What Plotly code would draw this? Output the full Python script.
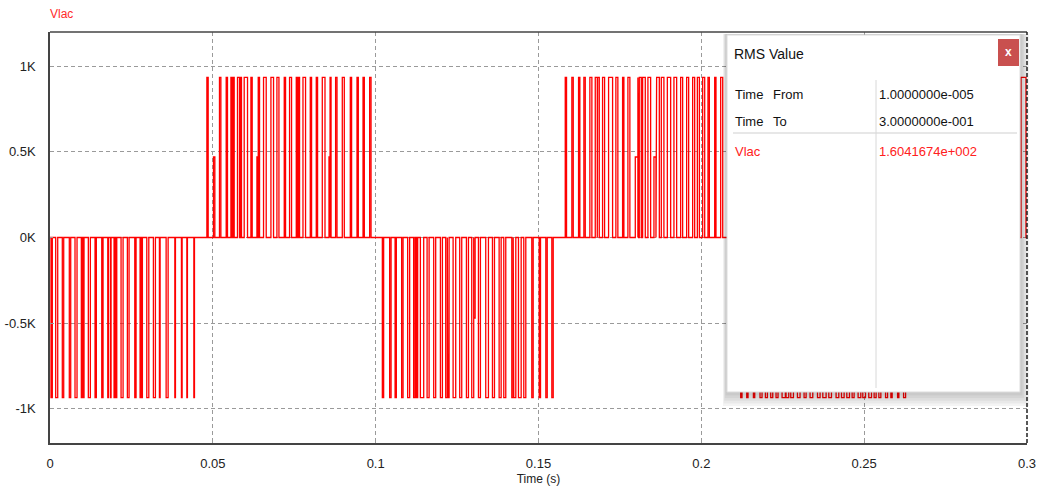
import plotly.graph_objects as go

# ---------------------------------------------------------------
# Vlac : inverter output voltage (PWM), pulse edges in milliseconds
# each entry is (switch-on time, switch-off time)
# ---------------------------------------------------------------
V_PEAK = 935.0          # pulse amplitude, volts
V_PART = 470.0          # amplitude of the truncated (partial) pulses

NEG_HALF_1 = [
    (0.31, 0.71), (1.75, 2.37), (3.78, 4.21), (5.93, 6.36), (7.68, 8.30),
    (9.62, 9.84), (10.05, 10.45), (11.77, 12.39), (13.83, 14.23), (15.89, 16.29),
    (17.74, 17.92), (18.54, 18.75), (19.67, 19.98), (20.29, 20.50), (21.82, 22.44),
    (23.76, 24.28), (26.03, 26.43), (27.66, 27.88), (28.19, 28.37), (29.72, 30.34),
    (31.75, 32.37), (33.60, 33.81), (35.66, 36.27), (38.33, 38.52), (40.36, 40.57),
    (42.02, 42.20), (44.17, 44.36),
]

POS_HALF_1 = [
    (48.17, 48.57), (52.04, 52.47), (54.10, 54.50), (55.55, 55.94), (56.16, 56.56),
    (57.57, 58.19), (58.40, 58.80), (59.63, 60.65), (61.69, 62.09), (63.94, 64.34),
    (65.57, 66.39), (67.84, 68.64), (69.68, 70.30), (71.93, 72.33), (73.56, 74.17),
    (75.62, 76.02), (76.23, 76.63), (77.68, 78.47), (79.92, 80.32), (81.76, 82.16),
    (83.61, 84.44), (86.00, 86.30), (87.70, 88.13), (89.75, 90.37), (92.21, 92.61),
    (94.27, 94.67), (96.12, 96.52), (98.15, 98.58),
]

NEG_HALF_2 = [
    (102.05, 102.45), (104.30, 104.73), (105.96, 106.35), (107.98, 108.41),
    (109.83, 110.44), (111.67, 112.10), (112.50, 112.90), (113.73, 114.75),
    (115.79, 116.41), (117.82, 118.43), (119.88, 120.49), (121.51, 122.00),
    (122.20, 122.55), (123.78, 124.58), (125.81, 126.43), (127.87, 128.49),
    (129.50, 130.11), (131.56, 132.17), (133.80, 134.63), (135.86, 136.48),
    (137.91, 138.53), (139.34, 139.95), (141.80, 142.23), (142.41, 143.03),
    (143.85, 144.68), (145.48, 146.10), (147.94, 148.37), (150.22, 150.62),
    (152.25, 152.68), (154.09, 154.52),
]

POS_HALF_2 = [
    (158.21, 158.61), (160.24, 160.67), (162.30, 162.70), (163.93, 164.36),
    (165.77, 166.39), (167.43, 168.05), (168.15, 168.66), (169.67, 170.29),
    (171.52, 172.75), (173.76, 174.37), (175.82, 176.22), (177.45, 178.06),
    (180.52, 180.75), (180.95, 181.56), (181.97, 182.79), (183.60, 184.43),
    (186.27, 187.10), (187.71, 188.51), (189.56, 190.58), (191.59, 192.42),
    (193.65, 194.26), (195.49, 196.11), (197.34, 197.95), (198.78, 199.39),
    (200.41, 201.03), (202.04, 202.46), (204.10, 204.50), (205.94, 206.56),
]

NEG_HALF_3 = [
    (212.09, 212.49), (213.94, 214.34), (215.99, 216.40), (218.02, 218.64),
    (219.68, 220.29), (221.31, 221.93), (222.94, 223.55), (224.79, 225.81),
    (226.02, 226.84), (227.46, 228.28), (229.51, 230.31), (231.55, 232.17),
    (233.39, 234.22), (235.67, 236.46), (237.30, 238.31), (239.14, 239.96),
    (241.38, 242.21), (243.04, 243.84), (244.67, 245.49), (246.30, 246.91),
    (248.14, 248.97), (249.58, 250.41), (251.42, 252.25), (253.06, 253.67),
    (254.51, 255.12), (256.57, 257.18), (258.20, 258.60), (260.26, 260.66),
    (262.10, 262.72),
]

POS_HALF_3 = [(298.16, 299.69)]

# truncated pulses (on, off, sign)
PARTIAL = [
    (50.20, 50.62, +1), (63.54, 63.85, +1), (85.67, 86.00, +1),
    (130.11, 130.54, -1), (179.72, 180.52, +1), (185.45, 186.07, +1),
]

T_END_MS = 300.0

# x / y axis ticks
X_TICKS = [0, 0.05, 0.1, 0.15, 0.2, 0.25, 0.3]
X_TICK_TEXT = ["0", "0.05", "0.1", "0.15", "0.2", "0.25", "0.3"]
Y_TICKS = [1000, 500, 0, -500, -1000]
Y_TICK_TEXT = ["1K", "0.5K", "0K", "-0.5K", "-1K"]

# RMS readout table
RMS_ROWS = [("Time", "From", "1.0000000e-005"), ("Time", "To", "3.0000000e-001")]
RMS_SIGNAL = ("Vlac", "1.6041674e+002")

# ---------------------------------------------------------------
# assemble the step waveform
# ---------------------------------------------------------------
pulses = []
for group, sign in ((NEG_HALF_1, -1), (POS_HALF_1, +1), (NEG_HALF_2, -1),
                    (POS_HALF_2, +1), (NEG_HALF_3, -1), (POS_HALF_3, +1)):
    pulses += [(a, b, sign * V_PEAK) for a, b in group]
pulses += [(a, b, s * V_PART) for a, b, s in PARTIAL]
pulses.sort()

xs, ys = [0.0], [0.0]
for a, b, v in pulses:
    xs += [a / 1000, a / 1000, b / 1000, b / 1000]
    ys += [0.0, v, v, 0.0]
xs.append(T_END_MS / 1000)
ys.append(0.0)

FONT = "Arial, Liberation Sans, sans-serif"

fig = go.Figure()
fig.add_trace(go.Scatter(x=xs, y=ys, mode="lines", name="Vlac",
                         line=dict(color="#ff0000", width=1.3),
                         hoverinfo="skip", showlegend=False))

# plot area in pixels: left 50, right 1027, top 32, bottom 443
W, H = 1042, 492
ML, MR, MT, MB = 50, 15, 32, 49
PW, PH = W - ML - MR, H - MT - MB


def px(x):
    return (x - ML) / PW


def py(y):
    return (H - MB - y) / PH


grid = dict(showgrid=True, gridcolor="#9a9a9a", gridwidth=1, griddash="4px,3px",
            zeroline=False, automargin=False)

fig.update_xaxes(range=[0, 0.3], tickvals=X_TICKS, ticktext=X_TICK_TEXT,
                 ticks="inside", ticklen=4, tickcolor="#9a9a9a",
                 showline=True, linecolor="#444", linewidth=1.5, mirror=False,
                 tickfont=dict(family=FONT, size=13, color="#222"),
                 ticklabelstandoff=8,
                 title=dict(text="Time (s)", font=dict(family=FONT, size=12, color="#222"),
                            standoff=4),
                 **grid)
fig.update_yaxes(range=[-1200, 1200], tickvals=Y_TICKS, ticktext=Y_TICK_TEXT,
                 ticks="inside", ticklen=3, tickcolor="#9a9a9a",
                 showline=True, linecolor="#444", linewidth=1.5,
                 tickfont=dict(family=FONT, size=13, color="#222"),
                 ticklabelstandoff=10,
                 **grid)

shapes = []
# frame: solid top edge, dashed right edge
shapes.append(dict(type="line", xref="paper", yref="paper", x0=0, x1=1, y0=1, y1=1,
                   line=dict(color="#444", width=1.5), layer="above"))
shapes.append(dict(type="line", xref="paper", yref="paper", x0=1, x1=1, y0=0, y1=1,
                   line=dict(color="#222", width=1.5, dash="4px,2px"), layer="above"))

# RMS dialog: soft drop shadow, panel, close button, dividers
DX0, DY0, DX1, DY1 = 727, 35, 1020, 392
for k in range(1, 6):
    shapes.append(dict(type="rect", xref="paper", yref="paper",
                       x0=px(DX0 - 1 - k * 0.6), x1=px(DX1 + 1 + k * 1.6),
                       y0=py(DY1 + 1 + k * 2.6), y1=py(DY0 - 1),
                       fillcolor="rgba(0,0,0,0.045)", line=dict(width=0), layer="above"))
shapes.append(dict(type="rect", xref="paper", yref="paper",
                   x0=px(DX0), x1=px(DX1), y0=py(DY1), y1=py(DY0),
                   fillcolor="#ffffff", line=dict(color="#dcdcdc", width=1), layer="above"))
shapes.append(dict(type="rect", xref="paper", yref="paper",
                   x0=px(998), x1=px(1019), y0=py(66), y1=py(39),
                   fillcolor="#c9504f", line=dict(width=0), layer="above"))
shapes.append(dict(type="line", xref="paper", yref="paper",
                   x0=px(733), x1=px(1017), y0=py(133), y1=py(133),
                   line=dict(color="#cfcfcf", width=1), layer="above"))
shapes.append(dict(type="line", xref="paper", yref="paper",
                   x0=px(876), x1=px(876), y0=py(388), y1=py(80),
                   line=dict(color="#d8d8d8", width=1), layer="above"))

ann = []


def label(text, x, y, color="#111", size=13, xanchor="left", **kw):
    ann.append(dict(text=text, x=px(x), y=py(y), xref="paper", yref="paper",
                    xanchor=xanchor, yanchor="middle", showarrow=False,
                    font=dict(family=FONT, size=size, color=color), **kw))


label("Vlac", 48, 14, color="#ff2a2a", size=12)
label("RMS Value", 732, 54, size=14)
label("<b>x</b>", 1008.5, 52, color="#ffffff", size=12, xanchor="center")
for (w1, w2, val), yy in zip(RMS_ROWS, (94, 122)):
    label(w1, 733, yy)
    label(w2, 771, yy)
    label(val, 877, yy)
label(RMS_SIGNAL[0], 733, 151, color="#ff2020")
label(RMS_SIGNAL[1], 877, 151, color="#ff2020")

fig.update_layout(width=W, height=H, margin=dict(l=ML, r=MR, t=MT, b=MB),
                  paper_bgcolor="#ffffff", plot_bgcolor="#ffffff",
                  shapes=shapes, annotations=ann, showlegend=False)

fig.write_html("out.html")
